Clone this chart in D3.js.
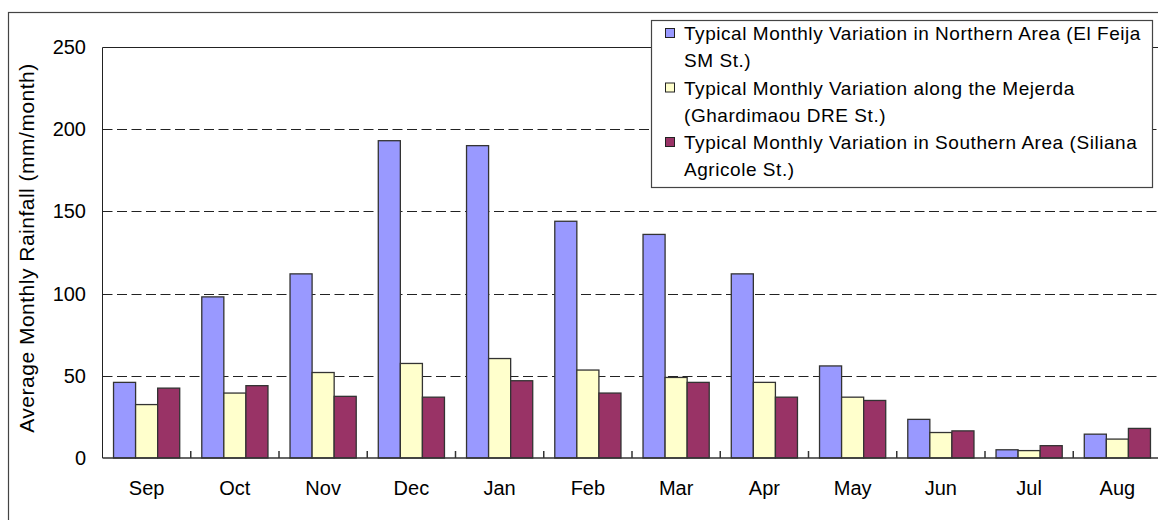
<!DOCTYPE html>
<html>
<head>
<meta charset="utf-8">
<script src="https://cdn.jsdelivr.net/npm/d3@7"></script>
<style>
  body { margin: 0; background: #fff; }
  text { font-family: "Liberation Sans", Arial, sans-serif; fill: #000; }
</style>
</head>
<body>
<div id="chart"></div>
<script>
let months = ["Sep", "Oct", "Nov", "Dec", "Jan", "Feb", "Mar", "Apr", "May", "Jun", "Jul", "Aug"];
let northern = [46, 98, 112, 193, 190, 144, 136, 112, 56, 23.5, 5, 14.5];
let mejerda = [32.5, 39.5, 52, 57.5, 60.5, 53.5, 49, 46, 37, 15.5, 4.5, 11.5];
let southern = [42.5, 44, 37.5, 37, 47, 39.5, 46, 37, 35, 16.5, 7.5, 18];
let series_names = [
  ["Typical Monthly Variation in Northern Area (El Feija", "SM St.)"],
  ["Typical Monthly Variation along the Mejerda", "(Ghardimaou DRE St.)"],
  ["Typical Monthly Variation in Southern Area (Siliana", "Agricole St.)"]
];
let series_colors = ["#9999ff", "#ffffcc", "#993366"];
let y_ticks = [0, 50, 100, 150, 200, 250];

let width = 1158;
let height = 520;
let svg;

function init() {
  svg = d3
    .select("#chart")
    .append("svg")
    .attr("width", width)
    .attr("height", height);
  draw();
}

function draw() {
  let left = 102.5;
  let right = 1161.5;
  let top = 47;
  let bottom = 458;

  // outer frame
  svg.append("rect")
    .attr("x", 8.5).attr("y", 12.5)
    .attr("width", 1200).attr("height", 600)
    .style("fill", "none").style("stroke", "#444").style("stroke-width", 1.2);

  let x = d3.scaleBand().domain(months).range([left, right]).padding(0);
  let y = d3.scaleLinear().domain([0, 250]).range([bottom, top]);
  let xs = d3.scaleBand().domain([0, 1, 2]).range([0, x.bandwidth()]).paddingOuter(0.5).paddingInner(0);

  // grid lines
  svg.selectAll(".grid")
    .data(y_ticks.filter(d => d > 0 && d < 250))
    .enter()
    .append("line")
    .attr("class", "grid")
    .attr("x1", left).attr("x2", right)
    .attr("y1", d => Math.round(y(d)) + 0.5)
    .attr("y2", d => Math.round(y(d)) + 0.5)
    .style("stroke", "#222")
    .style("stroke-dasharray", "10,4.5");

  // plot border (top + left + right)
  svg.append("path")
    .attr("d", `M${left},${bottom}V${top + 0.5}H${right}V${bottom}`)
    .style("fill", "none").style("stroke", "#222");

  // bars
  let all = [northern, mejerda, southern];
  all.forEach(function (vals, si) {
    svg.selectAll(".bar" + si)
      .data(vals)
      .enter()
      .append("rect")
      .attr("class", "bar" + si)
      .attr("x", (d, i) => x(months[i]) + xs(si))
      .attr("y", d => y(d))
      .attr("width", xs.bandwidth())
      .attr("height", d => bottom - y(d))
      .style("fill", series_colors[si])
      .style("stroke", "#333")
      .style("stroke-width", 1.3);
  });

  // x axis
  let xAxis = svg.append("g").attr("transform", `translate(0,${bottom})`);
  xAxis.append("line")
    .attr("x1", left).attr("x2", right)
    .style("stroke", "#333").style("stroke-width", 1.5);
  xAxis.selectAll(".tick")
    .data(months.slice(1))
    .enter()
    .append("line")
    .attr("x1", d => x(d)).attr("x2", d => x(d))
    .attr("y1", 0).attr("y2", -7)
    .style("stroke", "#333").style("stroke-width", 1.5);
  xAxis.selectAll(".lbl")
    .data(months)
    .enter()
    .append("text")
    .attr("x", d => x(d) + x.bandwidth() / 2)
    .attr("y", 37)
    .attr("text-anchor", "middle")
    .style("font-size", "20px")
    .text(d => d);

  // y axis labels
  svg.selectAll(".ylbl")
    .data(y_ticks)
    .enter()
    .append("text")
    .attr("x", 86)
    .attr("y", d => y(d) + 7)
    .attr("text-anchor", "end")
    .style("font-size", "20px")
    .text(d => d);

  svg.append("text")
    .attr("transform", "translate(34,248) rotate(-90)")
    .attr("text-anchor", "middle")
    .style("font-size", "21px")
    .style("letter-spacing", "0.5px")
    .text("Average Monthly Rainfall (mm/month)");

  // legend
  let lg = svg.append("g");
  lg.append("rect")
    .attr("x", 651.5).attr("y", 20.5)
    .attr("width", 501).attr("height", 167)
    .style("fill", "#fff").style("stroke", "#444").style("stroke-width", 1.2);
  series_names.forEach(function (lines, i) {
    let cy = 33 + i * 54.5;
    lg.append("rect")
      .attr("x", 665.5).attr("y", cy - 4.5)
      .attr("width", 9).attr("height", 9)
      .style("fill", series_colors[i]).style("stroke", "#222");
    lines.forEach(function (t, j) {
      lg.append("text")
        .attr("x", 684)
        .attr("y", cy + 7 + j * 27)
        .style("font-size", "19px")
        .style("letter-spacing", "0.55px")
        .text(t);
    });
  });
}

init();
</script>
</body>
</html>
